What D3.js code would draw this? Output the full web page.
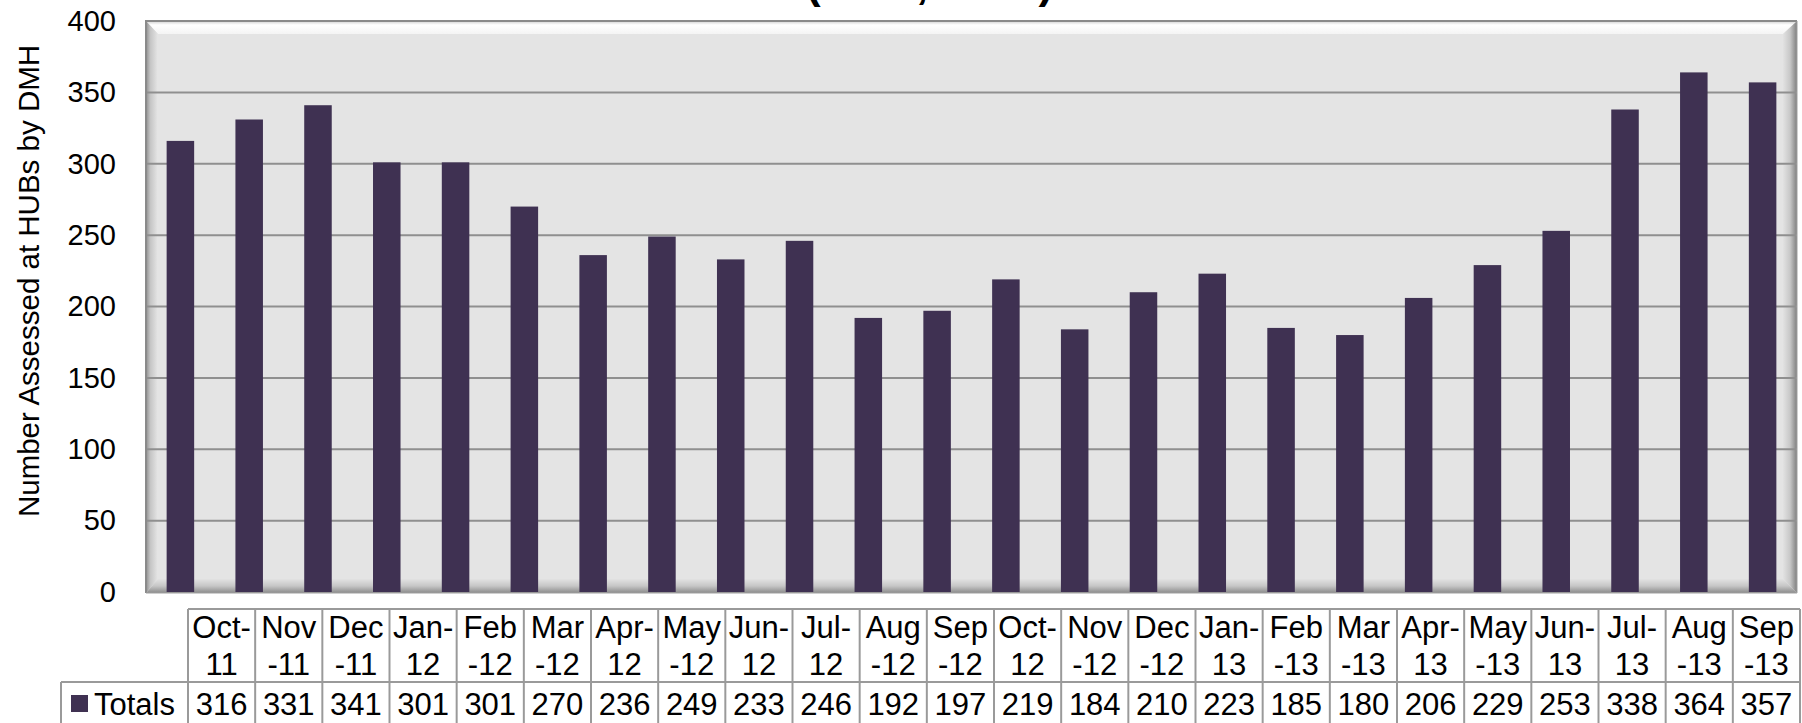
<!DOCTYPE html>
<html>
<head>
<meta charset="utf-8">
<script src="https://cdn.jsdelivr.net/npm/d3@7"></script>
<style>
    body { margin: 0; background: #fff; }
    svg { display: block; font-family: Arial, "Liberation Sans", sans-serif; }
</style>
</head>
<body>
<script>
const w = 1802; // width
const h = 723; // height

// data
const months = ["Oct-11", "Nov-11", "Dec-11", "Jan-12", "Feb-12", "Mar-12", "Apr-12", "May-12",
    "Jun-12", "Jul-12", "Aug-12", "Sep-12", "Oct-12", "Nov-12", "Dec-12", "Jan-13",
    "Feb-13", "Mar-13", "Apr-13", "May-13", "Jun-13", "Jul-13", "Aug-13", "Sep-13"];
const totals = [316, 331, 341, 301, 301, 270, 236, 249, 233, 246, 192, 197,
    219, 184, 210, 223, 185, 180, 206, 229, 253, 338, 364, 357];
const yTicks = [0, 50, 100, 150, 200, 250, 300, 350, 400];
const seriesName = "Totals";
const yTitle = "Number Assessed at HUBs by DMH";
const titleText = "(2011, 2013)";

// plot box (outer frame) and bevel size
const px0 = 146, px1 = 1797, py0 = 21, py1 = 593;
const bev = 12;
const barColor = "#3f3152";

let svg = d3.select("body")
    .append("svg")
    .attr("width", w)
    .attr("height", h);

let defs = svg.append("defs");
function grad(id, x1, y1, x2, y2, stops) {
    let g = defs.append("linearGradient").attr("id", id)
        .attr("x1", x1).attr("y1", y1).attr("x2", x2).attr("y2", y2);
    stops.forEach(s => g.append("stop").attr("offset", s[0]).attr("stop-color", s[1]));
}
grad("gLeft", 0, 0, 1, 0, [[0, "#8e8e8e"], [0.35, "#c4c4c4"], [1, "#e6e6e6"]]);
grad("gRight", 0, 0, 1, 0, [[0, "#e2e2e2"], [0.5, "#c8c8c8"], [1, "#7e7e7e"]]);
grad("gTop", 0, 0, 0, 1, [[0, "#d0d0d0"], [0.3, "#ffffff"], [1, "#f4f4f4"]]);
grad("gBottom", 0, 0, 0, 1, [[0, "#e2e2e2"], [0.5, "#c6c6c6"], [1, "#8a8a8a"]]);

// scales
let x = d3.scaleBand()
    .domain(months)
    .range([px0, px1])
    .paddingInner(0.6)
    .paddingOuter(0.3);

let y = d3.scaleLinear()
    .domain([0, 400])
    .range([py1 - 1, py0]);

// title (mostly above the visible area, only descenders show)
svg.append("text")
    .attr("x", 806)
    .attr("y", -2)
    .style("font-size", "44px")
    .style("font-weight", "bold")
    .text(titleText);

// back wall and bevels
svg.append("rect")
    .attr("x", px0).attr("y", py0)
    .attr("width", px1 - px0).attr("height", py1 - py0)
    .attr("fill", "#e4e4e4");

const ix0 = px0 + bev, ix1 = px1 - bev - 2, iy0 = py0 + bev + 1, iy1 = py1 - bev - 2;
svg.append("polygon")
    .attr("points", [[px0, py0], [px1, py0], [ix1, iy0], [ix0, iy0]].join(" "))
    .attr("fill", "url(#gTop)");
svg.append("polygon")
    .attr("points", [[px0, py0], [ix0, iy0], [ix0, iy1], [px0, py1]].join(" "))
    .attr("fill", "url(#gLeft)");
svg.append("polygon")
    .attr("points", [[px0, py1], [ix0, iy1], [ix1, iy1], [px1, py1]].join(" "))
    .attr("fill", "url(#gBottom)");
svg.append("polygon")
    .attr("points", [[px1, py0], [px1, py1], [ix1, iy1], [ix1, iy0]].join(" "))
    .attr("fill", "url(#gRight)");

// gridlines
svg.append("g")
    .selectAll("line")
    .data(yTicks.filter(d => d > 0 && d < 400))
    .enter()
    .append("line")
    .attr("x1", px0)
    .attr("x2", px1)
    .attr("y1", d => y(d))
    .attr("y2", d => y(d))
    .attr("stroke", "#8f8f8f")
    .attr("stroke-width", 2);

// frame
svg.append("path")
    .attr("d", `M${px0},${py1} V${py0} H${px1}`)
    .attr("fill", "none")
    .attr("stroke", "#8a8a8a")
    .attr("stroke-width", 2);
svg.append("path")
    .attr("d", `M${px0},${py1} H${px1} V${py0}`)
    .attr("fill", "none")
    .attr("stroke", "#a0a0a0")
    .attr("stroke-width", 1);

// bars
svg.selectAll("rect.bar")
    .data(totals)
    .enter()
    .append("rect")
    .attr("class", "bar")
    .attr("x", (d, i) => x(months[i]))
    .attr("y", d => y(d))
    .attr("width", x.bandwidth())
    .attr("height", d => y(0) - y(d))
    .attr("fill", barColor);

// y axis labels
let axisY = d3.axisLeft(y)
    .tickValues(yTicks)
    .tickSize(0)
    .tickPadding(0);
let gY = svg.append("g")
    .attr("transform", `translate(116,0)`)
    .call(axisY);
gY.select(".domain").remove();
gY.selectAll("text")
    .attr("fill", "#000")
    .style("font-size", "29px")
    .style("font-family", "Arial, 'Liberation Sans', sans-serif");

// y axis title
svg.append("text")
    .attr("text-anchor", "middle")
    .attr("transform", "translate(29,281) rotate(-90)")
    .attr("dy", "0.35em")
    .style("font-size", "29.5px")
    .text(yTitle);

// data table
const tx0 = 188, tx1 = 1800, rowHead = 61;
const hy0 = 609, hy1 = 682, ry1 = 730;
const fs = "31px";
let col = d3.scaleBand().domain(months).range([tx0, tx1]);
const cw = col.bandwidth();
const lineColor = "#9a9a9a";
let table = svg.append("g");

// measure to wrap "Oct-11" as "Oct-" / "11" or "Nov" / "-11"
let probe = table.append("text").style("font-size", fs);
function wrap(label) {
    let head = label.slice(0, 4);
    probe.text(head);
    if (probe.node().getComputedTextLength() <= cw - 6) return [head, label.slice(4)];
    return [label.slice(0, 3), label.slice(3)];
}
const headLines = months.map(wrap);
probe.remove();

let cells = table.selectAll("g.cell")
    .data(months)
    .enter()
    .append("g")
    .attr("class", "cell");

cells.each(function (d, i) {
    let g = d3.select(this);
    let cx = col(d) + cw / 2;
    let lines = headLines[i];
    g.append("text").attr("x", cx).attr("y", 627).attr("dy", "0.35em")
        .attr("text-anchor", "middle").style("font-size", fs).text(lines[0]);
    g.append("text").attr("x", cx).attr("y", 664).attr("dy", "0.35em")
        .attr("text-anchor", "middle").style("font-size", fs).text(lines[1]);
    g.append("text").attr("x", cx).attr("y", 704).attr("dy", "0.35em")
        .attr("text-anchor", "middle").style("font-size", fs).text(totals[i]);
});

// table lines
let tl = [
    [tx0, hy0, tx1, hy0],
    [rowHead, hy1, tx1, hy1],
    [rowHead, hy1, rowHead, ry1],
    [tx1, hy0, tx1, ry1]
];
months.forEach(m => tl.push([col(m), hy0, col(m), ry1]));
table.selectAll("line")
    .data(tl)
    .enter()
    .append("line")
    .attr("x1", d => d[0]).attr("y1", d => d[1])
    .attr("x2", d => d[2]).attr("y2", d => d[3])
    .attr("stroke", lineColor)
    .attr("stroke-width", 2);

// legend key + series name
table.append("rect")
    .attr("x", 71).attr("y", 695)
    .attr("width", 17).attr("height", 17)
    .attr("fill", barColor);
table.append("text")
    .attr("x", 94).attr("y", 704).attr("dy", "0.35em")
    .style("font-size", fs)
    .text(seriesName);
</script>
</body>
</html>
